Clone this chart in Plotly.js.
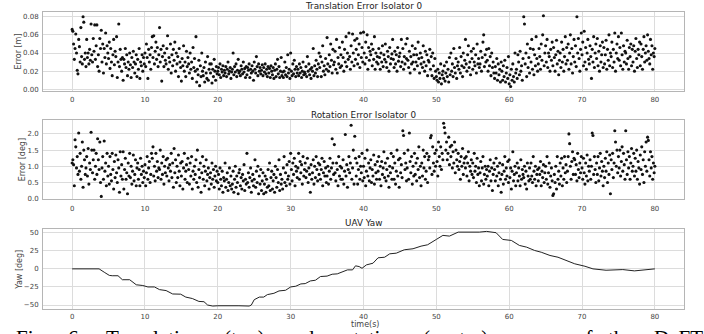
<!DOCTYPE html>
<html>
<head>
<meta charset="utf-8">
<script src="https://cdn.plot.ly/plotly-3.0.1.min.js"></script>
<style>html,body{margin:0;padding:0;background:#fff;}#chart{width:704px;height:334px;}</style>
</head>
<body>
<div id="chart"></div>
<script>
// sample times in deciseconds (0.1 s)
const timeDs = [
0,1,2,3,4,5,6,7,8,9,10,11,12,13,14,15,16,17,18,19,
20,21,22,23,24,25,26,27,28,29,30,31,32,33,34,35,36,37,38,39,
40,41,42,43,44,45,46,47,48,49,50,51,52,53,54,55,56,57,58,59,
60,61,62,63,64,65,66,67,68,69,70,71,72,73,74,75,76,77,78,79,
80,81,82,83,84,85,86,87,88,89,90,91,92,93,94,95,96,97,98,99,
100,101,102,103,104,105,106,107,108,109,110,111,112,113,114,115,116,117,118,119,
120,121,122,123,124,125,126,127,128,129,130,131,132,133,134,135,136,137,138,139,
140,141,142,143,144,145,146,147,148,149,150,151,152,153,154,155,156,157,158,159,
160,161,162,163,164,165,166,167,168,169,170,171,172,173,174,175,176,177,178,179,
180,181,182,183,184,185,186,187,188,189,190,191,192,193,194,195,196,197,198,199,
200,201,202,203,204,205,206,207,208,209,210,211,212,213,214,215,216,217,218,219,
220,221,222,223,224,225,226,227,228,229,230,231,232,233,234,235,236,237,238,239,
240,241,242,243,244,245,246,247,248,249,250,251,252,253,254,255,256,257,258,259,
260,261,262,263,264,265,266,267,268,269,270,271,272,273,274,275,276,277,278,279,
280,281,282,283,284,285,286,287,288,289,290,291,292,293,294,295,296,297,298,299,
300,301,302,303,304,305,306,307,308,309,310,311,312,313,314,315,316,317,318,319,
320,321,322,323,324,325,326,327,328,329,330,331,332,333,334,335,336,337,338,339,
340,341,342,343,344,345,346,347,348,349,350,351,352,353,354,355,356,357,358,359,
360,361,362,363,364,365,366,367,368,369,370,371,372,373,374,375,376,377,378,379,
380,381,382,383,384,385,386,387,388,389,390,391,392,393,394,395,396,397,398,399,
400,401,402,403,404,405,406,407,408,409,410,411,412,413,414,415,416,417,418,419,
420,421,422,423,424,425,426,427,428,429,430,431,432,433,434,435,436,437,438,439,
440,441,442,443,444,445,446,447,448,449,450,451,452,453,454,455,456,457,458,459,
460,461,462,463,464,465,466,467,468,469,470,471,472,473,474,475,476,477,478,479,
480,481,482,483,484,485,486,487,488,489,490,491,492,493,494,495,496,497,498,499,
500,501,502,503,504,505,506,507,508,509,510,511,512,513,514,515,516,517,518,519,
520,521,522,523,524,525,526,527,528,529,530,531,532,533,534,535,536,537,538,539,
540,541,542,543,544,545,546,547,548,549,550,551,552,553,554,555,556,557,558,559,
560,561,562,563,564,565,566,567,568,569,570,571,572,573,574,575,576,577,578,579,
580,581,582,583,584,585,586,587,588,589,590,591,592,593,594,595,596,597,598,599,
600,601,602,603,604,605,606,607,608,609,610,611,612,613,614,615,616,617,618,619,
620,621,622,623,624,625,626,627,628,629,630,631,632,633,634,635,636,637,638,639,
640,641,642,643,644,645,646,647,648,649,650,651,652,653,654,655,656,657,658,659,
660,661,662,663,664,665,666,667,668,669,670,671,672,673,674,675,676,677,678,679,
680,681,682,683,684,685,686,687,688,689,690,691,692,693,694,695,696,697,698,699,
700,701,702,703,704,705,706,707,708,709,710,711,712,713,714,715,716,717,718,719,
720,721,722,723,724,725,726,727,728,729,730,731,732,733,734,735,736,737,738,739,
740,741,742,743,744,745,746,747,748,749,750,751,752,753,754,755,756,757,758,759,
760,761,762,763,764,765,766,767,768,769,770,771,772,773,774,775,776,777,778,779,
780,781,782,783,784,785,786,787,788,789,790,791,792,793,794,795,796,797,798,799,
800
];

// translation error in millimetres
const transErrMm = [
66,64,50,33,45,61,40,21,17,55, 47,30,68,36,28,80,74,33,40,25,
55,35,40,28,44,32,72,38,30,56, 42,71,33,48,71,25,38,20,56,45,
65,30,50,18,45,35,62,28,48,40, 34,52,23,45,30,15,38,55,27,42,
36,58,13,30,72,25,44,33,20,35, 10,33,28,45,24,38,15,30,22,40,
27,13,35,24,42,30,18,28,38,14, 33,22,45,12,30,26,38,20,35,28,
40,25,50,35,12,44,30,38,22,46, 58,35,59,28,42,52,33,46,25,38,
68,30,44,9,36,48,25,40,32,28, 45,59,22,35,30,50,18,38,26,44,
32,52,20,40,28,36,14,45,30,24, 9,34,26,48,20,30,14,42,25,35,
28,18,40,22,30,12,46,24,34,20, 58,8,22,16,32,4,26,14,40,20,
15,24,8,30,18,12,36,10,22,28, 18,28,7,22,14,33,20,10,25,17,
20,24,16,28,13,22,19,26,15,21, 18,25,14,22,30,17,20,24,12,19,
22,40,16,25,19,28,14,21,33,18, 20,15,26,22,17,30,19,23,13,25,
16,24,21,28,13,22,18,26,20,10, 30,22,18,36,25,15,28,20,24,17,
21,27,15,24,19,28,17,22,14,25, 18,23,13,26,20,16,24,12,21,28,
14,22,33,17,25,13,20,35,15,19, 13,20,30,16,24,14,38,18,22,12,
40,20,15,28,17,32,22,14,25,18, 22,15,28,18,24,13,20,30,16,19,
17,25,14,36,20,28,16,22,12,24, 20,45,15,26,18,32,22,14,28,40,
24,36,14,30,48,20,26,16,34,22, 57,28,20,38,25,50,32,18,44,27,
30,42,22,55,18,35,28,46,24,38, 26,52,35,20,44,30,58,25,40,33,
62,36,22,48,30,61,40,26,54,33, 44,56,28,38,50,24,62,35,46,30,
63,40,28,52,35,60,22,46,32,42, 38,50,26,44,33,58,22,40,30,36,
28,45,35,22,40,30,48,25,38,33, 50,30,24,42,36,20,46,28,34,39,
55,33,24,42,28,38,20,46,31,36, 40,25,55,30,45,22,36,28,50,34,
56,32,24,42,18,36,28,48,30,38, 22,45,30,38,26,52,34,18,40,28,
35,24,48,30,20,42,26,38,15,32, 30,44,22,36,15,40,26,12,34,20,
14,10,22,8,18,12,28,6,16,20, 12,26,9,18,30,14,22,8,35,16,
40,20,28,14,45,24,18,34,12,26, 30,22,46,18,36,26,14,40,24,32,
55,28,20,38,48,24,30,16,42,34, 22,45,30,26,38,18,50,28,34,24,
28,42,20,35,52,60,25,38,30,44, 32,20,45,26,36,15,40,24,30,18,
12,25,18,34,10,28,16,22,8,30, 20,10,26,14,32,8,18,24,12,36,
6,16,3,22,10,28,14,8,40,18, 22,12,38,30,16,42,20,26,10,34,
80,72,28,40,14,50,24,35,18,45, 30,55,22,44,16,38,26,58,34,20,
28,45,36,22,50,32,60,81,26,40, 48,30,55,24,40,36,20,44,32,52,
26,46,35,20,38,54,28,42,16,32, 40,24,52,30,44,20,36,58,28,46,
32,50,22,40,60,28,45,18,36,55, 30,48,25,80,40,56,34,20,44,62,
38,52,26,64,30,46,22,40,55,33, 28,48,36,12,44,30,58,24,40,50,
34,56,26,42,20,48,30,38,52,24, 46,28,38,54,22,44,32,60,26,40,
36,52,24,44,30,62,20,40,50,34, 58,32,46,26,62,38,22,48,30,42,
40,28,54,34,22,46,36,50,26,44, 30,48,20,42,56,34,24,44,38,52,
26,50,36,22,44,58,30,40,48,32, 60,42,34,28,55,38,48,22,40,36,
45
];

// rotation error in hundredths of a degree
const rotErrCdeg = [
110,120,105,40,182,160,95,130,75,203, 85,140,60,100,175,35,150,120,75,95,
130,70,155,45,110,90,205,150,80,120, 150,60,100,140,75,185,120,90,175,50,
7,95,130,60,178,85,110,40,140,70, 100,45,130,75,55,140,90,30,115,65,
135,80,50,120,95,20,145,70,105,60, 145,30,90,125,60,80,15,110,70,140,
65,100,45,85,135,55,75,120,40,95, 110,60,90,40,125,75,100,50,85,65,
105,40,80,130,60,95,115,50,75,140, 125,160,70,100,55,140,85,115,65,95,
90,150,60,110,75,130,45,100,80,120, 70,125,95,55,105,85,140,65,110,35,
155,80,120,50,100,65,135,85,40,110, 70,115,30,95,140,60,85,105,50,125,
90,45,110,70,130,30,85,60,100,75, 120,50,150,35,90,65,110,20,80,130,
60,100,40,85,120,55,75,95,30,65, 80,45,110,60,90,35,70,100,55,85,
50,75,30,95,60,40,85,20,65,55, 110,35,60,80,25,50,95,40,70,30,
45,85,20,60,100,35,70,50,15,80, 90,40,65,30,75,55,105,25,60,45,
140,50,80,35,65,95,20,55,75,40, 60,120,35,85,50,100,15,70,45,90,
25,55,80,15,45,70,20,60,35,90, 40,110,25,65,85,30,55,75,20,100,
65,35,90,50,120,25,75,45,60,30, 95,130,50,80,40,105,60,70,115,45,
140,90,55,110,75,125,40,100,85,65, 95,140,60,115,80,105,45,130,70,90,
110,65,85,125,50,95,75,20,105,60, 80,120,45,100,65,130,90,55,110,75,
105,60,90,125,40,80,115,70,95,50, 70,100,45,85,125,60,95,185,110,75,
167,80,55,110,90,40,130,70,100,60, 95,60,120,45,85,198,70,105,35,90,
130,80,110,227,60,95,150,45,193,125, 70,110,45,90,130,60,100,80,140,55,
100,65,125,40,85,150,70,110,55,95, 120,50,90,70,135,45,105,80,60,115,
85,130,60,100,40,115,75,95,145,65, 110,55,90,125,70,35,100,80,140,60,
95,130,60,110,45,85,150,70,120,35, 125,80,105,65,210,195,140,90,110,55,
95,150,60,203,115,80,130,45,100,70, 140,75,110,55,125,90,160,65,100,40,
110,70,150,95,130,60,85,140,50,120, 130,95,188,195,75,160,110,85,140,100,
150,115,70,175,130,100,160,90,140,120, 233,220,203,150,175,120,140,190,105,160,
130,165,95,145,110,175,80,150,120,100, 140,90,115,60,130,100,155,75,110,125,
95,130,70,110,145,55,100,85,120,75, 110,65,140,85,100,50,125,75,95,40,
80,115,55,95,130,45,75,100,60,90, 70,100,40,85,120,55,95,25,75,110,
90,55,125,70,100,40,80,110,60,20, 75,105,45,85,130,60,95,70,115,50,
120,65,95,30,85,145,55,75,100,40, 80,110,55,95,70,40,120,60,90,75,
65,100,45,85,30,110,70,55,95,60, 110,70,50,130,85,60,100,40,75,90,
55,95,75,115,40,85,65,105,50,80, 100,60,130,45,80,110,35,70,95,55,
10,15,75,50,100,30,130,60,85,45, 110,70,125,40,95,60,130,80,105,50,
85,130,200,170,100,60,115,145,75,125, 120,75,105,55,140,90,65,110,80,130,
95,60,125,80,45,110,70,135,55,100, 85,120,60,100,203,195,75,130,90,50,
110,75,130,55,95,140,70,115,85,40, 100,65,125,85,145,50,110,75,135,15,
120,90,140,65,110,210,175,100,150,80, 130,95,150,70,115,160,85,140,105,60,
210,120,75,145,95,130,60,110,155,85, 100,140,70,125,85,150,60,115,95,45,
135,90,160,75,120,50,145,100,175,85, 190,180,120,70,145,95,130,60,110,80,
100
];

// UAV yaw
const yawTime = [0,1,2,3,3.7,4.4,5.1,5.5,6.3,6.9,7.9,8.8,9.7,10.4,11.3,12,12.9,13.8,14.9,15.6,
16.5,17.4,18.1,18.6,19.3,20,21.1,22,22.9,24.3,24.6,25,25.7,26.3,26.8,27.7,28.4,29.3,30,30.7,
31.4,32,32.7,33.4,34.1,35,35.7,36.4,37.1,37.8,38.5,38.9,39.4,39.8,40.4,41.3,42,42.9,43.6,44.5,
45.6,46.8,47.9,48.8,50,50.9,51.8,53,55.9,56.9,58.2,59.1,60.3,61.4,62.4,63.5,64.4,65.6,66.7,67.9,
69,70.4,71.5,73.3,75.6,77.2,78.8,80];
const yawDeg = [0,0,-1,-1,0,-4.6,-9,-9.5,-9.5,-15,-15,-22,-23,-25,-25,-28.7,-30,-34.7,-35,-39,
-41,-45,-45.4,-50,-51.4,-51,-51,-50,-51,-51.4,-50,-42.6,-39,-39,-35.6,-33.8,-30.5,-29.6,-25,-24,
-20.8,-20.4,-16.7,-15.7,-10.6,-10,-7.4,-6.9,-4.2,-1.4,-1.4,4.2,3.2,0.8,5.5,7.8,15.3,16.1,20.8,21.7,
26.4,27.8,31.4,33.3,40.7,46.3,45.3,50.8,50.8,51.8,50,40.7,39.3,32.4,30,25.4,23,18.5,16.1,11.5,
7,3.6,0,-1.9,-1,-2.8,-1,0];

const subplotTitles = ["Translation Error Isolator 0", "Rotation Error Isolator 0", "UAV Yaw"];
const yTitles = ["Error [m]", "Error [deg]", "Yaw [deg]"];
const xTitle = "time(s)";
const captionWords = ["Fig.", "6:", "Translation", "(top)", "and", "rotation", "(center)", "error", "of", "the", "DeFT"];
const captionX = [14, 66, 104, 222, 282, 334, 421, 512, 573, 606, 652];

const tSec = timeDs.map(v => v / 10);
const transErr = transErrMm.map(v => v / 1000);
const rotErr = rotErrCdeg.map(v => v / 100);

const W = 704, H = 334, L = 43, R = 20;
const font = "DejaVu Sans, sans-serif";
const marker = {size: 3.1, color: "#111"};

const traces = [
  {x: tSec, y: transErr, type: "scatter", mode: "markers", marker: marker, xaxis: "x", yaxis: "y", hoverinfo: "skip"},
  {x: tSec, y: rotErr, type: "scatter", mode: "markers", marker: marker, xaxis: "x2", yaxis: "y2", hoverinfo: "skip"},
  {x: yawTime, y: yawDeg, type: "scatter", mode: "lines", line: {color: "#222", width: 1}, xaxis: "x3", yaxis: "y3", hoverinfo: "skip"}
];

function py(p) { return 1 - p / H; }
function px(p) { return (p - L) / (W - L - R); }
function xAxis(anchor, tlen) {
  return {
    anchor: anchor, domain: [0, 1], range: [-4, 84], tick0: 0, dtick: 10,
    showgrid: true, gridcolor: "#dcdcdc", gridwidth: 1, zeroline: false,
    showline: true, linecolor: "#b5b5b5", linewidth: 1, mirror: true,
    ticks: tlen > 0 ? "outside" : "", ticklen: tlen, tickcolor: "rgba(0,0,0,0)",
    tickfont: {family: font, size: 7, color: "#444"}
  };
}
function yAxis(anchor, dom, range, dtick, fmt, title) {
  return {
    anchor: anchor, domain: dom, range: range, dtick: dtick, tick0: 0, tickformat: fmt,
    showgrid: true, gridcolor: "#dcdcdc", gridwidth: 1, zeroline: false,
    showline: true, linecolor: "#b5b5b5", linewidth: 1, mirror: true,
    ticks: "outside", ticklen: 2, tickcolor: "rgba(0,0,0,0)",
    tickfont: {family: font, size: 7, color: "#444"},
    title: {text: title, font: {family: font, size: 8, color: "#444"}, standoff: 0}
  };
}

const annotations = [
  {text: subplotTitles[0], x: 0.5, y: py(6), xref: "paper", yref: "paper", xanchor: "center", yanchor: "middle", showarrow: false, font: {family: font, size: 8.8, color: "#222"}},
  {text: subplotTitles[1], x: 0.5, y: py(114.7), xref: "paper", yref: "paper", xanchor: "center", yanchor: "middle", showarrow: false, font: {family: font, size: 8.8, color: "#222"}},
  {text: subplotTitles[2], x: 0.5, y: py(222.5), xref: "paper", yref: "paper", xanchor: "center", yanchor: "middle", showarrow: false, font: {family: font, size: 8.8, color: "#222"}},
  {text: xTitle, x: px(365), y: py(324), xref: "paper", yref: "paper", xanchor: "center", yanchor: "middle", showarrow: false, font: {family: font, size: 8, color: "#444"}}
];
captionWords.forEach((w, i) => {
  annotations.push({text: w, x: px(captionX[i]), y: py(323.5), xref: "paper", yref: "paper",
    xanchor: "left", yanchor: "top", showarrow: false, font: {family: "Liberation Serif, serif", size: 21, color: "#000"}});
});

const layout = {
  width: W, height: H,
  margin: {l: L, r: R, t: 0, b: 0},
  paper_bgcolor: "#fff", plot_bgcolor: "#fff",
  showlegend: false,
  font: {family: font},
  xaxis: xAxis("y", 2),
  xaxis2: xAxis("y2", 2),
  xaxis3: xAxis("y3", 0),
  yaxis: yAxis("x", [py(91), py(12)], [-0.0019, 0.0852], 0.02, ".2f", yTitles[0]),
  yaxis2: yAxis("x2", [py(199.3), py(120)], [-0.02, 2.43], 0.5, ".1f", yTitles[1]),
  yaxis3: yAxis("x3", [py(309.3), py(229.3)], [-55.9, 54.7], 25, "d", yTitles[2]),
  annotations: annotations
};

Plotly.newPlot("chart", traces, layout, {staticPlot: true, displayModeBar: false});
</script>
</body>
</html>
